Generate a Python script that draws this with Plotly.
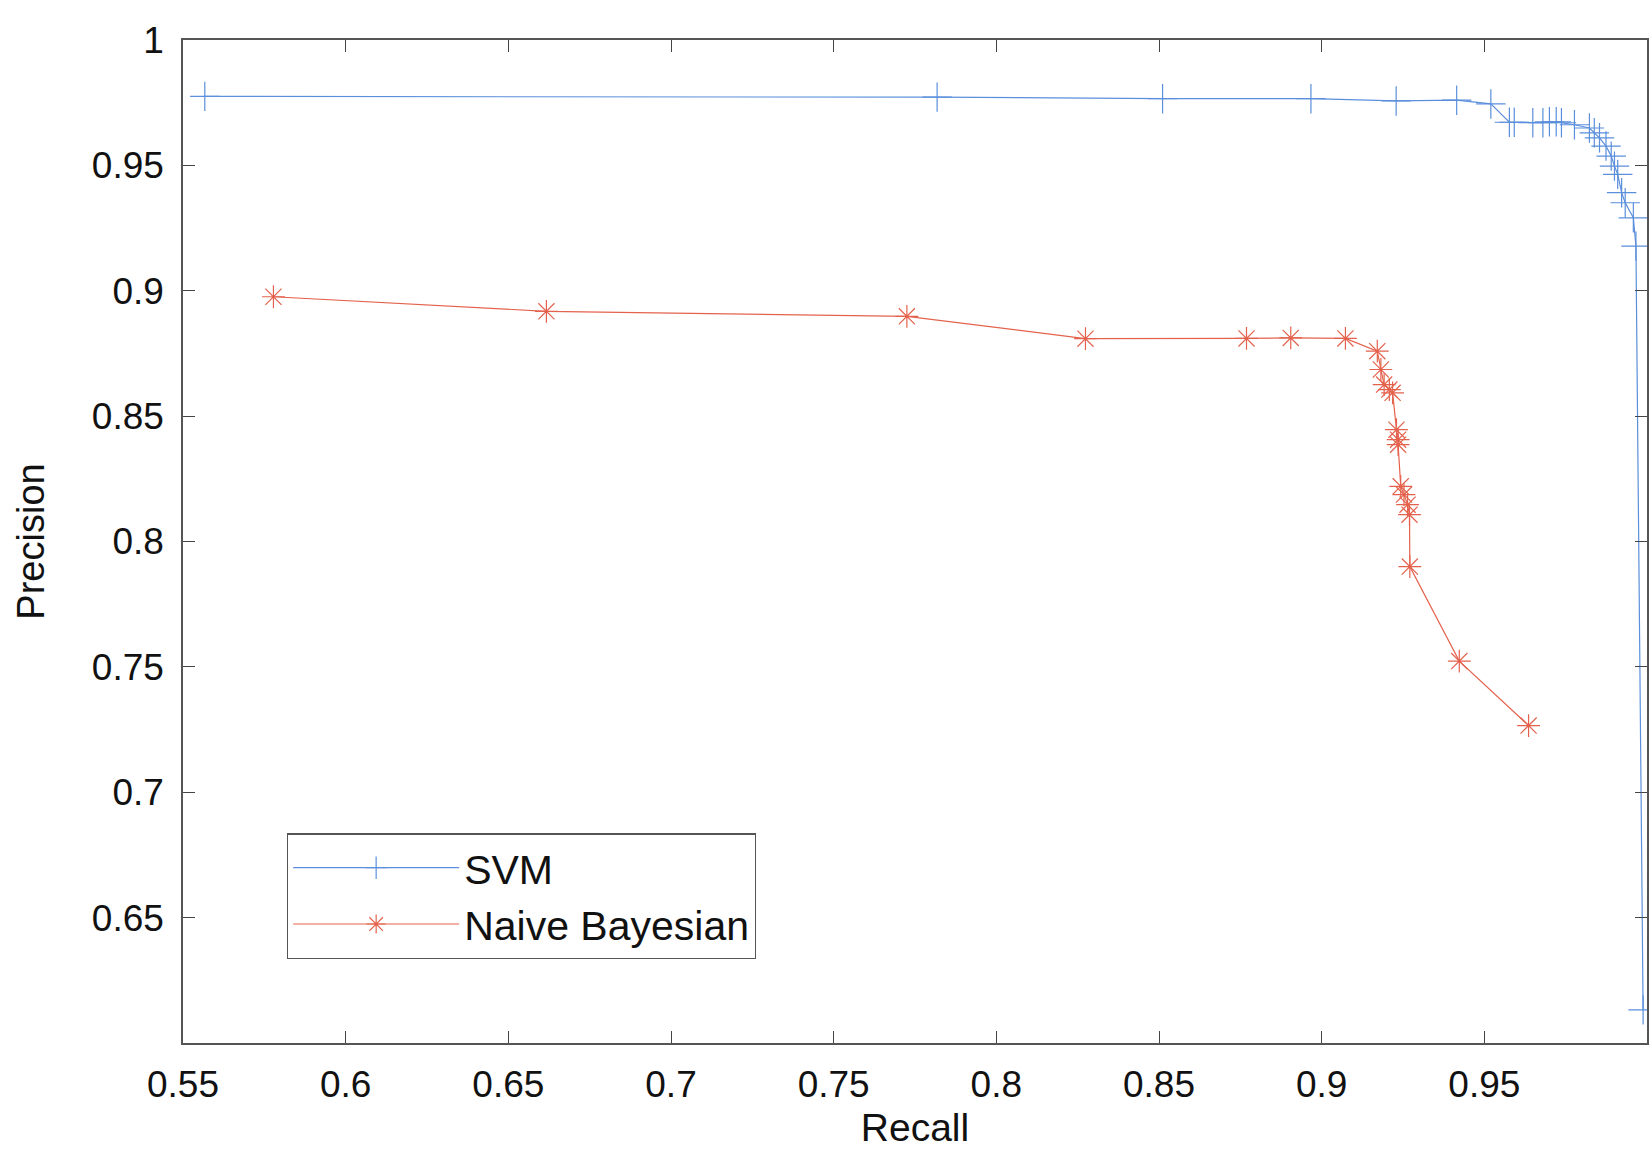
import plotly.graph_objects as go

# ---- data ----
svm_recall = [0.5567, 0.7818, 0.8511, 0.8967, 0.9229, 0.9415, 0.9520,
              0.9577, 0.9592, 0.9649, 0.9680, 0.9700, 0.9721, 0.9737, 0.9777,
              0.9823, 0.9838, 0.9854, 0.9874, 0.9890, 0.9900, 0.9910, 0.9922,
              0.9933, 0.9958, 0.9966, 0.9988]
svm_precision = [0.9775, 0.9772, 0.9766, 0.9766, 0.9757, 0.9760, 0.9745,
                 0.9672, 0.9672, 0.9670, 0.9670, 0.9674, 0.9674, 0.9670, 0.9662,
                 0.9649, 0.9630, 0.9610, 0.9577, 0.9537, 0.9497, 0.9464, 0.9391,
                 0.9351, 0.9291, 0.9178, 0.6132]

nb_recall = [0.5778, 0.6617, 0.7725, 0.8274, 0.8769, 0.8905, 0.9073, 0.9171,
             0.9182, 0.9192, 0.9208, 0.9218, 0.9230, 0.9235, 0.9235, 0.9243,
             0.9253, 0.9264, 0.9270, 0.9271, 0.9423, 0.9636]
nb_precision = [0.8976, 0.8918, 0.8898, 0.8809, 0.8810, 0.8812, 0.8810, 0.8759,
                0.8686, 0.8626, 0.8606, 0.8593, 0.8446, 0.8406, 0.8386, 0.8220,
                0.8187, 0.8147, 0.8107, 0.7900, 0.7523, 0.7266]

x_ticks = [0.55, 0.6, 0.65, 0.7, 0.75, 0.8, 0.85, 0.9, 0.95, 1.0]
x_tick_labels = ["0.55", "0.6", "0.65", "0.7", "0.75", "0.8", "0.85", "0.9", "0.95", "1"]
y_ticks = [0.65, 0.7, 0.75, 0.8, 0.85, 0.9, 0.95, 1.0]
y_tick_labels = ["0.65", "0.7", "0.75", "0.8", "0.85", "0.9", "0.95", "1"]

SVM_COLOR = "#5b8fdb"
NB_COLOR = "#e4624d"
FONT = "Helvetica, Arial, 'Liberation Sans', sans-serif"

fig = go.Figure()
fig.add_trace(go.Scatter(
    x=svm_recall, y=svm_precision, mode="lines+markers", name="SVM",
    line=dict(color=SVM_COLOR, width=1.2),
    marker=dict(symbol="cross-thin", size=21, line=dict(color=SVM_COLOR, width=1.2)),
))
fig.add_trace(go.Scatter(
    x=nb_recall, y=nb_precision, mode="lines+markers", name="Naive Bayesian",
    line=dict(color=NB_COLOR, width=1.2),
    marker=dict(symbol="asterisk", size=19, line=dict(color=NB_COLOR, width=1.2)),
))

axis_common = dict(
    showgrid=False, zeroline=False, showline=True, linecolor="#555555", linewidth=1.5,
    mirror="allticks", ticks="inside", ticklen=12, tickwidth=1.2, tickcolor="#444444",
    tickfont=dict(family=FONT, size=37, color="#111111"),
    automargin=False,
)

fig.update_xaxes(range=[0.55, 1.0], tickvals=x_ticks, ticktext=x_tick_labels,
                 ticklabelstandoff=8,
                 title=dict(text="Recall", font=dict(family=FONT, size=39, color="#111111"),
                            standoff=16),
                 **axis_common)
fig.update_yaxes(range=[0.6, 1.0], tickvals=y_ticks, ticktext=y_tick_labels,
                 ticklabelstandoff=10,
                 title=dict(text="Precision", font=dict(family=FONT, size=38, color="#111111"),
                            standoff=36),
                 **axis_common)

fig.update_layout(
    width=1651, height=1149,
    margin=dict(l=183, r=4, t=40, b=106),
    plot_bgcolor="white", paper_bgcolor="white",
    font=dict(family=FONT, color="#111111"),
    legend=dict(
        x=0.071, y=0.209, xanchor="left", yanchor="top",
        bordercolor="#555555", borderwidth=1.2, bgcolor="white",
        font=dict(family=FONT, size=41, color="#111111"),
        itemwidth=166,
    ),
)

fig.write_html("out.html")
